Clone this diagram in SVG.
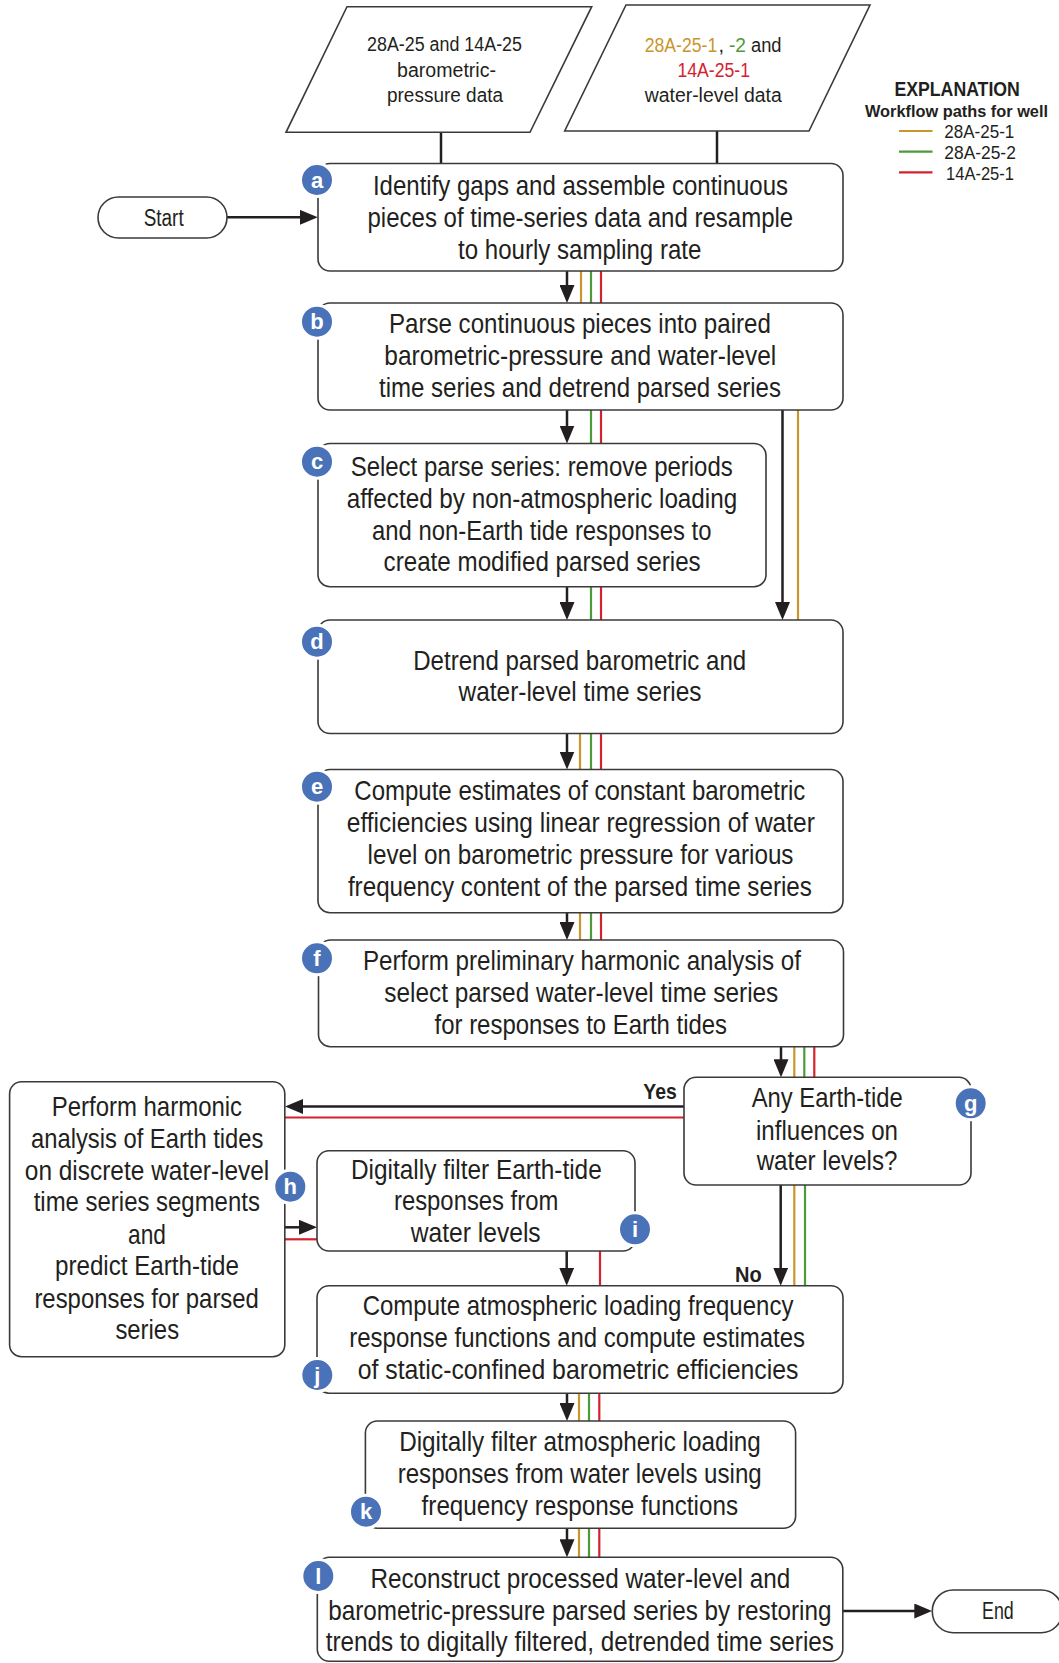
<svg xmlns="http://www.w3.org/2000/svg" width="1059" height="1663" viewBox="0 0 1059 1663">
  <defs>
    <style>
      .box { fill: #ffffff; stroke: #3a3a3a; stroke-width: 1.6; }
      .t { font-family: "Liberation Sans", Arial, sans-serif; font-size: 27.5px; fill: #231f20; }
      .ts { font-family: "Liberation Sans", Arial, sans-serif; font-size: 20px; fill: #231f20; }
      .tt { font-family: "Liberation Sans", Arial, sans-serif; font-size: 23px; fill: #231f20; }
      .tb { font-family: "Liberation Sans", Arial, sans-serif; font-weight: bold; fill: #231f20; }
      .tl { font-family: "Liberation Sans", Arial, sans-serif; font-size: 18.5px; fill: #231f20; }
      .badge circle { fill: #4a72b8; stroke: #ffffff; stroke-width: 3; }
      .badge text { font-family: "Liberation Sans", Arial, sans-serif; font-weight: bold; font-size: 22px; fill: #ffffff; text-anchor: middle; }
      .k { stroke: #231f20; stroke-width: 2.5; fill: none; }
      .go { stroke: #c9962b; stroke-width: 2.2; fill: none; }
      .gr { stroke: #4d9a3a; stroke-width: 2.2; fill: none; }
      .rd { stroke: #d3222f; stroke-width: 2.2; fill: none; }
      .gold { fill: #c9962b; }
      .green { fill: #4d9a3a; }
      .red { fill: #d3222f; }
    </style>
    <marker id="ah" markerUnits="userSpaceOnUse" markerWidth="18" markerHeight="15" refX="8" refY="7.5" orient="auto">
      <path d="M0,0 L18,7.5 L0,15 Z" fill="#231f20"/>
    </marker>
  </defs>

  <!-- Legend -->
  <g id="legend">
    <text class="tb" x="894.4" y="95.7" font-size="19.5" textLength="125.5" lengthAdjust="spacingAndGlyphs">EXPLANATION</text>
    <text class="tb" x="865" y="117.3" font-size="17" textLength="183" lengthAdjust="spacingAndGlyphs">Workflow paths for well</text>
    <line class="go" x1="899" y1="131" x2="932.5" y2="131"/>
    <line class="gr" x1="899" y1="151.7" x2="932.5" y2="151.7"/>
    <line class="rd" x1="899" y1="172.3" x2="932.5" y2="172.3"/>
    <text class="tl" x="944.3" y="138.3" textLength="70" lengthAdjust="spacingAndGlyphs">28A-25-1</text>
    <text class="tl" x="944.3" y="159.3" textLength="71.5" lengthAdjust="spacingAndGlyphs">28A-25-2</text>
    <text class="tl" x="946" y="180" textLength="68" lengthAdjust="spacingAndGlyphs">14A-25-1</text>
  </g>

  <!-- Connectors -->
  <g id="connectors">
    <!-- data inputs to a -->
    <line class="k" x1="441" y1="132" x2="441" y2="163.5"/>
    <line class="k" x1="717" y1="131" x2="717" y2="163.5"/>
    <!-- Start to a -->
    <line class="k" x1="227" y1="217.3" x2="307.8" y2="217.3" marker-end="url(#ah)"/>
    <!-- a to b -->
    <line class="k" x1="567" y1="271" x2="567" y2="293" marker-end="url(#ah)"/>
    <line class="go" x1="581" y1="271" x2="581" y2="303"/>
    <line class="gr" x1="591" y1="271" x2="591" y2="303"/>
    <line class="rd" x1="601" y1="271" x2="601" y2="303"/>
    <!-- b to c -->
    <line class="k" x1="567" y1="410" x2="567" y2="433.5" marker-end="url(#ah)"/>
    <line class="gr" x1="591" y1="410" x2="591" y2="443.5"/>
    <line class="rd" x1="601" y1="410" x2="601" y2="443.5"/>
    <!-- b to d (bypass c) -->
    <line class="k" x1="782.5" y1="410" x2="782.5" y2="610" marker-end="url(#ah)"/>
    <line class="go" x1="798" y1="410" x2="798" y2="620"/>
    <!-- c to d -->
    <line class="k" x1="567" y1="586.7" x2="567" y2="610" marker-end="url(#ah)"/>
    <line class="gr" x1="591" y1="586.7" x2="591" y2="620"/>
    <line class="rd" x1="601" y1="586.7" x2="601" y2="620"/>
    <!-- d to e -->
    <line class="k" x1="567" y1="733.5" x2="567" y2="759.5" marker-end="url(#ah)"/>
    <line class="go" x1="580" y1="733.5" x2="580" y2="769.5"/>
    <line class="gr" x1="591" y1="733.5" x2="591" y2="769.5"/>
    <line class="rd" x1="601" y1="733.5" x2="601" y2="769.5"/>
    <!-- e to f -->
    <line class="k" x1="567" y1="912.7" x2="567" y2="930" marker-end="url(#ah)"/>
    <line class="go" x1="580" y1="912.7" x2="580" y2="940"/>
    <line class="gr" x1="591" y1="912.7" x2="591" y2="940"/>
    <line class="rd" x1="601" y1="912.7" x2="601" y2="940"/>
    <!-- f to g -->
    <line class="k" x1="781" y1="1046.7" x2="781" y2="1067.3" marker-end="url(#ah)"/>
    <line class="go" x1="794.3" y1="1046.7" x2="794.3" y2="1077.3"/>
    <line class="gr" x1="804.3" y1="1046.7" x2="804.3" y2="1077.3"/>
    <line class="rd" x1="814.3" y1="1046.7" x2="814.3" y2="1077.3"/>
    <!-- g to h (Yes) -->
    <line class="k" x1="684" y1="1106.5" x2="295" y2="1106.5" marker-end="url(#ah)"/>
    <line class="rd" x1="684" y1="1117.5" x2="285" y2="1117.5"/>
    <text class="tb" x="643.3" y="1099.3" font-size="22" textLength="33.4" lengthAdjust="spacingAndGlyphs">Yes</text>
    <!-- h to i -->
    <line class="k" x1="285" y1="1227.3" x2="307" y2="1227.3" marker-end="url(#ah)"/>
    <line class="rd" x1="285" y1="1239.3" x2="317" y2="1239.3"/>
    <!-- i to j -->
    <line class="k" x1="566.7" y1="1251" x2="566.7" y2="1275.7" marker-end="url(#ah)"/>
    <line class="rd" x1="600" y1="1251" x2="600" y2="1285.7"/>
    <!-- g to j (No) -->
    <line class="k" x1="780.7" y1="1185" x2="780.7" y2="1275.7" marker-end="url(#ah)"/>
    <line class="go" x1="794.3" y1="1185" x2="794.3" y2="1285.7"/>
    <line class="gr" x1="805" y1="1185" x2="805" y2="1285.7"/>
    <text class="tb" x="735" y="1281.7" font-size="22" textLength="26.7" lengthAdjust="spacingAndGlyphs">No</text>
    <!-- j to k -->
    <line class="k" x1="567" y1="1393.2" x2="567" y2="1411" marker-end="url(#ah)"/>
    <line class="go" x1="579" y1="1393.2" x2="579" y2="1421"/>
    <line class="gr" x1="589" y1="1393.2" x2="589" y2="1421"/>
    <line class="rd" x1="599.3" y1="1393.2" x2="599.3" y2="1421"/>
    <!-- k to l -->
    <line class="k" x1="567" y1="1528.3" x2="567" y2="1547.3" marker-end="url(#ah)"/>
    <line class="go" x1="579" y1="1528.3" x2="579" y2="1557.3"/>
    <line class="gr" x1="589" y1="1528.3" x2="589" y2="1557.3"/>
    <line class="rd" x1="599.3" y1="1528.3" x2="599.3" y2="1557.3"/>
    <!-- l to End -->
    <line class="k" x1="842.8" y1="1611" x2="922.3" y2="1611" marker-end="url(#ah)"/>
  </g>

  <!-- Input data -->
  <g id="baro-data">
    <polygon class="box" points="347,6.7 591.7,6.7 530,132.3 286,132.3"/>
    <text class="ts" x="367" y="50.7" textLength="155" lengthAdjust="spacingAndGlyphs">28A-25 and 14A-25</text>
    <text class="ts" x="397" y="77.3" textLength="99" lengthAdjust="spacingAndGlyphs">barometric-</text>
    <text class="ts" x="387" y="101.7" textLength="116" lengthAdjust="spacingAndGlyphs">pressure data</text>
  </g>
  <g id="water-data">
    <polygon class="box" points="626,5 870,5 809,131 564.7,131"/>
    <text class="ts gold" x="644.7" y="51.7" textLength="72.5" lengthAdjust="spacingAndGlyphs">28A-25-1</text>
    <text class="ts" x="718.5" y="51.7">,</text>
    <text class="ts green" x="729" y="51.7" textLength="17" lengthAdjust="spacingAndGlyphs">-2</text>
    <text class="ts" x="751" y="51.7" textLength="30.5" lengthAdjust="spacingAndGlyphs">and</text>
    <text class="ts red" x="677.4" y="76.7" textLength="72.6" lengthAdjust="spacingAndGlyphs">14A-25-1</text>
    <text class="ts" x="644.7" y="101.7" textLength="137" lengthAdjust="spacingAndGlyphs">water-level data</text>
  </g>

  <!-- Terminals -->
  <g id="start">
    <rect class="box" x="98" y="197" width="129" height="41" rx="20.5"/>
    <text class="tt" x="143.7" y="225.5" textLength="40" lengthAdjust="spacingAndGlyphs">Start</text>
  </g>
  <g id="end">
    <rect class="box" x="932.3" y="1590" width="130" height="42.7" rx="21"/>
    <text class="tt" x="982" y="1618.5" textLength="31.7" lengthAdjust="spacingAndGlyphs">End</text>
  </g>

  <!-- Process steps -->
  <g id="step-a">
    <rect class="box" x="318" y="163.5" width="525" height="107.5" rx="12"/>
    <text class="t" x="372.9" y="194.5" textLength="415.2" lengthAdjust="spacingAndGlyphs">Identify gaps and assemble continuous</text>
    <text class="t" x="367.5" y="227" textLength="425.7" lengthAdjust="spacingAndGlyphs">pieces of time-series data and resample</text>
    <text class="t" x="458" y="258.8" textLength="243.4" lengthAdjust="spacingAndGlyphs">to hourly sampling rate</text>
    <g class="badge"><circle cx="317" cy="180" r="16.5"/><text x="317" y="187.5">a</text></g>
  </g>

  <g id="step-b">
    <rect class="box" x="318" y="303" width="525" height="107" rx="12"/>
    <text class="t" x="388.9" y="333" textLength="382" lengthAdjust="spacingAndGlyphs">Parse continuous pieces into paired</text>
    <text class="t" x="384.3" y="364.8" textLength="392" lengthAdjust="spacingAndGlyphs">barometric-pressure and water-level</text>
    <text class="t" x="379" y="397" textLength="402" lengthAdjust="spacingAndGlyphs">time series and detrend parsed series</text>
    <g class="badge"><circle cx="317" cy="321.7" r="16.5"/><text x="317" y="329.2">b</text></g>
  </g>

  <g id="step-c">
    <rect class="box" x="318" y="443.5" width="448" height="143.2" rx="12"/>
    <text class="t" x="350.7" y="475.5" textLength="382" lengthAdjust="spacingAndGlyphs">Select parse series: remove periods</text>
    <text class="t" x="346.8" y="507.6" textLength="390.4" lengthAdjust="spacingAndGlyphs">affected by non-atmospheric loading</text>
    <text class="t" x="372.1" y="539.6" textLength="339.3" lengthAdjust="spacingAndGlyphs">and non-Earth tide responses to</text>
    <text class="t" x="383.6" y="571.4" textLength="317.1" lengthAdjust="spacingAndGlyphs">create modified parsed series</text>
    <g class="badge"><circle cx="317" cy="461.7" r="16.5"/><text x="317" y="469.2">c</text></g>
  </g>

  <g id="step-d">
    <rect class="box" x="318" y="620" width="525" height="113.5" rx="12"/>
    <text class="t" x="413.2" y="669.6" textLength="333" lengthAdjust="spacingAndGlyphs">Detrend parsed barometric and</text>
    <text class="t" x="458.6" y="701.4" textLength="242.9" lengthAdjust="spacingAndGlyphs">water-level time series</text>
    <g class="badge"><circle cx="317" cy="641.7" r="16.5"/><text x="317" y="649.2">d</text></g>
  </g>

  <g id="step-e">
    <rect class="box" x="318" y="769.5" width="525" height="143.2" rx="12"/>
    <text class="t" x="354.3" y="800.4" textLength="451" lengthAdjust="spacingAndGlyphs">Compute estimates of constant barometric</text>
    <text class="t" x="346.8" y="832" textLength="468" lengthAdjust="spacingAndGlyphs">efficiencies using linear regression of water</text>
    <text class="t" x="367.5" y="864.3" textLength="426" lengthAdjust="spacingAndGlyphs">level on barometric pressure for various</text>
    <text class="t" x="347.9" y="896" textLength="464" lengthAdjust="spacingAndGlyphs">frequency content of the parsed time series</text>
    <g class="badge"><circle cx="317" cy="786.7" r="16.5"/><text x="317" y="794.2">e</text></g>
  </g>

  <g id="step-f">
    <rect class="box" x="318.5" y="940" width="525" height="106.7" rx="12"/>
    <text class="t" x="362.9" y="969.7" textLength="438" lengthAdjust="spacingAndGlyphs">Perform preliminary harmonic analysis of</text>
    <text class="t" x="384.3" y="1002" textLength="394" lengthAdjust="spacingAndGlyphs">select parsed water-level time series</text>
    <text class="t" x="434.6" y="1033.7" textLength="292.5" lengthAdjust="spacingAndGlyphs">for responses to Earth tides</text>
    <g class="badge"><circle cx="317" cy="958.3" r="16.5"/><text x="317" y="965.8">f</text></g>
  </g>

  <g id="step-g">
    <rect class="box" x="684" y="1077.3" width="287" height="107.7" rx="12"/>
    <text class="t" x="751.7" y="1107" textLength="151" lengthAdjust="spacingAndGlyphs">Any Earth-tide</text>
    <text class="t" x="756" y="1139.6" textLength="142" lengthAdjust="spacingAndGlyphs">influences on</text>
    <text class="t" x="756.7" y="1170.4" textLength="140.7" lengthAdjust="spacingAndGlyphs">water levels?</text>
    <g class="badge"><circle cx="970.7" cy="1103.3" r="16.5"/><text x="970.7" y="1110.8">g</text></g>
  </g>

  <g id="step-h">
    <rect class="box" x="9.6" y="1081.7" width="275.2" height="275" rx="12"/>
    <text class="t" x="51.7" y="1116.4" textLength="190.4" lengthAdjust="spacingAndGlyphs">Perform harmonic</text>
    <text class="t" x="31" y="1147.7" textLength="232.4" lengthAdjust="spacingAndGlyphs">analysis of Earth tides</text>
    <text class="t" x="24.8" y="1179.6" textLength="244.5" lengthAdjust="spacingAndGlyphs">on discrete water-level</text>
    <text class="t" x="33.7" y="1211.4" textLength="226.2" lengthAdjust="spacingAndGlyphs">time series segments</text>
    <text class="t" x="128" y="1243.6" textLength="37.9" lengthAdjust="spacingAndGlyphs">and</text>
    <text class="t" x="55" y="1275.4" textLength="184" lengthAdjust="spacingAndGlyphs">predict Earth-tide</text>
    <text class="t" x="34.4" y="1307.6" textLength="224.5" lengthAdjust="spacingAndGlyphs">responses for parsed</text>
    <text class="t" x="115.4" y="1339.4" textLength="63.7" lengthAdjust="spacingAndGlyphs">series</text>
    <g class="badge"><circle cx="290.3" cy="1186.7" r="16.5"/><text x="290.3" y="1194.2">h</text></g>
  </g>

  <g id="step-i">
    <rect class="box" x="317" y="1150.7" width="318" height="100.3" rx="12"/>
    <text class="t" x="351" y="1179.4" textLength="250.7" lengthAdjust="spacingAndGlyphs">Digitally filter Earth-tide</text>
    <text class="t" x="394" y="1210.4" textLength="164.3" lengthAdjust="spacingAndGlyphs">responses from</text>
    <text class="t" x="410.7" y="1242" textLength="130" lengthAdjust="spacingAndGlyphs">water levels</text>
    <g class="badge"><circle cx="635" cy="1229.3" r="16.5"/><text x="635" y="1236.8">i</text></g>
  </g>

  <g id="step-j">
    <rect class="box" x="317" y="1285.7" width="526" height="107.5" rx="12"/>
    <text class="t" x="362.7" y="1315.4" textLength="430.7" lengthAdjust="spacingAndGlyphs">Compute atmospheric loading frequency</text>
    <text class="t" x="349.3" y="1347" textLength="455.7" lengthAdjust="spacingAndGlyphs">response functions and compute estimates</text>
    <text class="t" x="357.7" y="1378.6" textLength="440.7" lengthAdjust="spacingAndGlyphs">of static-confined barometric efficiencies</text>
    <g class="badge"><circle cx="317.3" cy="1375" r="16.5"/><text x="317.3" y="1382.5">j</text></g>
  </g>

  <g id="step-k">
    <rect class="box" x="365.4" y="1421" width="430.2" height="107.3" rx="12"/>
    <text class="t" x="399.2" y="1451.4" textLength="361.7" lengthAdjust="spacingAndGlyphs">Digitally filter atmospheric loading</text>
    <text class="t" x="397.7" y="1483" textLength="364" lengthAdjust="spacingAndGlyphs">responses from water levels using</text>
    <text class="t" x="421.6" y="1514.6" textLength="316.4" lengthAdjust="spacingAndGlyphs">frequency response functions</text>
    <g class="badge"><circle cx="366" cy="1511.7" r="16.5"/><text x="366" y="1519.2">k</text></g>
  </g>

  <g id="step-l">
    <rect class="box" x="317.3" y="1557.3" width="525.5" height="104" rx="12"/>
    <text class="t" x="370.4" y="1587.6" textLength="419.8" lengthAdjust="spacingAndGlyphs">Reconstruct processed water-level and</text>
    <text class="t" x="328.2" y="1619.6" textLength="503.2" lengthAdjust="spacingAndGlyphs">barometric-pressure parsed series by restoring</text>
    <text class="t" x="325.7" y="1651" textLength="508.2" lengthAdjust="spacingAndGlyphs">trends to digitally filtered, detrended time series</text>
    <g class="badge"><circle cx="318.3" cy="1576" r="16.5"/><text x="318.3" y="1583.5">l</text></g>
  </g>
</svg>
